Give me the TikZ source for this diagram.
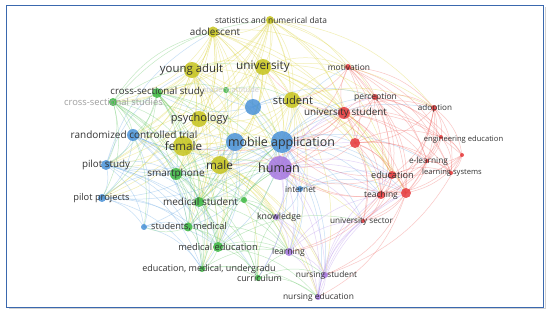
\documentclass[tikz,border=0pt]{standalone}
\usepackage{fontspec}
\setmainfont{Open Sans}
\pgfdeclarelayer{bg}
\pgfsetlayers{bg,main}
\definecolor{cy}{HTML}{C6C41E}
\definecolor{cb}{HTML}{4A92D8}
\definecolor{cg}{HTML}{3DB843}
\definecolor{cr}{HTML}{E63A3C}
\definecolor{cp}{HTML}{A576E0}
\definecolor{ey}{HTML}{DCD43A}
\definecolor{eb}{HTML}{6AAAE6}
\definecolor{eg}{HTML}{66C866}
\definecolor{er}{HTML}{F26A66}
\definecolor{ep}{HTML}{B890EC}
\definecolor{labc}{HTML}{333333}
\definecolor{framec}{HTML}{3A68AE}
\newcommand{\fsz}[1]{\fontsize{#1}{#1}\selectfont}
\tikzset{
  vn/.style 2 args={circle, inner sep=0pt, minimum size=#2, fill=#1, fill opacity=0.85, draw=none},
  lab/.style={inner sep=0pt, text=labc, font=\fsz{#1}},
  lnk/.style={draw=#1, draw opacity=0.38, line width=0.5pt, bend left=22},
}
\begin{document}
\begin{tikzpicture}[x=1pt,y=-1pt]
\useasboundingbox (0,0) rectangle (550,313);
% ---------- node circles ----------
% yellow
\node[vn={cy}{8pt}] (stat) at (270,20) {};
\node[vn={cy}{11pt}] (adol) at (213,32) {};
\node[vn={cy}{16pt}] (yadult) at (192,70) {};
\node[vn={cy}{16pt}] (univ) at (263,67) {};
\node[vn={cy}{16pt}] (stud) at (292,100) {};
\node[vn={cy}{16pt}] (psych) at (199,119) {};
\node[vn={cy}{20pt}] (fem) at (183,146) {};
\node[vn={cy}{18pt}] (male) at (220,165) {};
% blue
\node[vn={cb}{22pt}] (mob) at (282,142) {};
\node[vn={cb}{18pt}] (mob2) at (235,142) {};
\node[vn={cb}{16pt}] (mob3) at (253,107) {};
\node[vn={cb}{12pt}] (rct) at (133,135) {};
\node[vn={cb}{10pt}] (pstudy) at (106,165) {};
\node[vn={cb}{8pt}] (pproj) at (102,198) {};
\node[vn={cb}{6pt}] (blsm) at (144,227) {};
\node[vn={cb}{6pt}] (inet) at (300,189) {};
% green
\node[vn={cg}{10pt}] (css) at (157,93) {};
\node[vn={cg}{8pt}] (csss) at (113,102) {};
\node[vn={cg}{6pt}] (satt) at (226,90) {};
\node[vn={cg}{12pt}] (smart) at (176,174) {};
\node[vn={cg}{10pt}] (medst) at (199,202) {};
\node[vn={cg}{6pt}] (gsm) at (244,200) {};
\node[vn={cg}{9pt}] (stmed) at (188,227) {};
\node[vn={cg}{10pt}] (medu) at (218,247) {};
\node[vn={cg}{6pt}] (emu) at (202,269) {};
\node[vn={cg}{6pt}] (curr) at (258,278) {};
% purple
\node[vn={cp}{24pt}] (human) at (280,168) {};
\node[vn={cp}{6pt}] (know) at (276,217) {};
\node[vn={cp}{8pt}] (learn) at (289,252) {};
\node[vn={cp}{6pt}] (nst) at (325,275) {};
\node[vn={cp}{6pt}] (ned) at (318,297) {};
% red
\node[vn={cr}{6pt}] (motiv) at (348,67) {};
\node[vn={cr}{6pt}] (perc) at (375,97) {};
\node[vn={cr}{12pt}] (ust) at (344,113) {};
\node[vn={cr}{6pt}] (adopt) at (434,108) {};
\node[vn={cr}{10pt}] (r1) at (355,143) {};
\node[vn={cr}{4pt}] (eng) at (441,137) {};
\node[vn={cr}{4pt}] (r2) at (462,155) {};
\node[vn={cr}{4pt}] (elearn) at (427,161) {};
\node[vn={cr}{4pt}] (lsys) at (451,173) {};
\node[vn={cr}{8pt}] (educ) at (392,175) {};
\node[vn={cr}{8pt}] (teach) at (381,195) {};
\node[vn={cr}{10pt}] (r3) at (406,193) {};
\node[vn={cr}{4pt}] (usec) at (363,221) {};
% ---------- edges ----------
\begin{pgfonlayer}{bg}
\fill[white] (0,0) rectangle (550,313);
\foreach \s/\tl in {
  stat/{adol,univ,stud,yadult,fem,male,human,mob,psych,css,csss,rct,pstudy,pproj,motiv,perc,adopt,ust,educ,r1,smart},
  adol/{yadult,univ,stud,fem,male,psych,human,mob,mob2,mob3,css,csss,rct,pstudy,pproj,smart,medst,ust,motiv,educ},
  yadult/{univ,stud,fem,male,psych,human,mob,mob2,css,csss,rct,pstudy,pproj,smart,medst,stmed,medu},
  univ/{stud,fem,male,psych,human,mob,mob2,ust,motiv,perc,adopt,educ,teach,r1,r3,medst,css},
  stud/{fem,male,psych,human,mob,mob2,ust,perc,motiv,adopt,educ,teach,r1,r3,know,learn,nst,inet},
  psych/{fem,male,human,mob,mob2,rct,smart,pstudy,medst,css},
  fem/{male,human,mob,rct,pstudy,pproj,smart,medst,stmed,medu,know,learn,nst,ned,emu},
  male/{human,mob,smart,medst,stmed,medu,curr,know,learn,inet,nst,ned,emu,usec}}
  {\foreach \t in \tl {\draw[lnk=ey] (\s.center) to (\t.center);}}
\foreach \s/\tl in {
  mob/{human,mob2,mob3,rct,pstudy,pproj,smart,medst,inet,ust,educ,teach,know,learn,medu,stmed,perc,adopt,elearn,nst,ned,r1,r3,usec,motiv,curr},
  mob2/{rct,pstudy,pproj,fem,blsm,smart,medst,stmed,medu,human,male,emu},
  mob3/{univ,stud,yadult,ust,css,psych,human,perc},
  rct/{pstudy,pproj,smart,blsm,stmed,medu,human,medst,emu},
  pstudy/{pproj,blsm,smart,medst,stmed,medu,emu,curr,yadult,adol},
  pproj/{blsm,stmed,medu,emu,smart},
  blsm/{stmed,medu,emu},
  inet/{human,educ,teach,know,learn,r3}}
  {\foreach \t in \tl {\draw[lnk=eb] (\s.center) to (\t.center);}}
\foreach \s/\tl in {
  css/{csss,satt,rct,pstudy,pproj,smart,medst,human,mob2,fem,psych,stmed,medu,emu},
  csss/{rct,pstudy,pproj,smart,medst,stmed,medu,emu,fem,mob2,blsm,adol,stat,univ},
  satt/{mob,stud,human,medst},
  smart/{medst,stmed,medu,emu,human,mob,gsm,curr,know,learn},
  medst/{stmed,medu,emu,curr,human,gsm,know,learn,mob},
  stmed/{medu,emu,curr,human,blsm,learn},
  medu/{emu,curr,human,know,learn,nst,ned,usec,mob},
  emu/{curr,human,learn,ned},
  curr/{human,learn,know,ned,nst},
  gsm/{human,mob,know,learn}}
  {\foreach \t in \tl {\draw[lnk=eg] (\s.center) to (\t.center);}}
\foreach \s/\tl in {
  human/{know,learn,nst,ned,inet,ust,educ,teach,r1,r3,usec,perc,curr},
  know/{learn,nst,ned},
  learn/{nst,ned,usec,teach},
  nst/{ned,usec,r3},
  ned/{usec,r3,teach,educ}}
  {\foreach \t in \tl {\draw[lnk=ep] (\s.center) to (\t.center);}}
\foreach \s/\tl in {
  ust/{motiv,perc,adopt,r1,eng,r2,elearn,lsys,educ,teach,r3,usec,human,mob,stud,univ,male,fem},
  motiv/{perc,adopt,r1,educ,teach,r3,eng,elearn,lsys,stud,mob},
  perc/{adopt,r1,educ,teach,r3,eng,elearn,lsys,r2,mob,human},
  adopt/{eng,r2,elearn,lsys,educ,r1,r3,teach,usec},
  r1/{educ,teach,r3,elearn,lsys,eng,usec,human,mob},
  eng/{r2,elearn,lsys,educ,teach},
  r2/{elearn,lsys,educ,r3,teach,nst},
  elearn/{lsys,educ,r3,teach,usec},
  educ/{teach,r3,usec,lsys,learn,human,mob},
  teach/{r3,usec,human,learn},
  r3/{usec,ned,nst,human,mob}}
  {\foreach \t in \tl {\draw[lnk=er] (\s.center) to (\t.center);}}
\end{pgfonlayer}
% ---------- labels ----------
\node[lab=8.4] (Lstat) at (271,20) {statistics and numerical data};
\node[lab=9.9] (Ladol) at (215,32) {adolescent};
\node[lab=11.4] (Lyadult) at (191.5,70) {young adult};
\node[lab=11.8] (Luniv) at (263,67) {university};
\node[lab=11.2] (Lstud) at (293,100) {student};
\node[lab=11] (Lpsych) at (199.5,119) {psychology};
\node[lab=11.6] (Lfem) at (183.5,146) {female};
\node[lab=11.7] (Lmale) at (219.5,165) {male};
\node[lab=12.4] (Lmob) at (281.5,143) {mobile application};
\node[lab=10] (Lrct) at (134,135) {randomized controlled trial};
\node[lab=9.8] (Lpstudy) at (106,165) {pilot study};
\node[lab=9.3] (Lpproj) at (101.5,198) {pilot projects};
\node[lab=8.3] (Linet) at (300.5,189) {internet};
\node[lab=9.7] (Lcss) at (157.5,92) {cross-sectional study};
\node[lab=9.4, text=black!38] (Lcsss) at (113.5,102) {cross-sectional studies};
\node[lab=7.5, text=black!20] (Lsatt) at (231,90) {student attitude};
\node[lab=10] (Lsmart) at (176,174) {smartphone};
\node[lab=10] (Lmedst) at (200.5,202) {medical student};
\node[lab=9.2] (Lstmed) at (189,227) {students, medical};
\node[lab=9.3] (Lmedu) at (218,247) {medical education};
\node[lab=9] (Lemu) at (209,269) {education, medical, undergradu};
\node[lab=8.9] (Lcurr) at (259.5,278) {curriculum};
\node[lab=12.6] (Lhuman) at (279,168) {human};
\node[lab=8.7] (Lknow) at (279,217) {knowledge};
\node[lab=8.6] (Llearn) at (288.5,252) {learning};
\node[lab=8.3] (Lnst) at (326.5,275) {nursing student};
\node[lab=8.4] (Lned) at (318.5,297) {nursing education};
\node[lab=8.4] (Lmotiv) at (349,67) {motivation};
\node[lab=8.5] (Lperc) at (375.5,97) {perception};
\node[lab=9.9] (Lust) at (345.5,113) {university student};
\node[lab=8.1] (Ladopt) at (435,108) {adoption};
\node[lab=7.6] (Leng) at (463.5,140) {engineering education};
\node[lab=8.3] (Lelearn) at (428.5,161) {e-learning};
\node[lab=7.6] (Llsys) at (452,173) {learning systems};
\node[lab=9.2] (Leduc) at (392.5,175) {education};
\node[lab=8.5] (Lteach) at (381,195) {teaching};
\node[lab=8.2] (Lusec) at (361.5,221) {university sector};
% ---------- frame ----------
\draw[black!18, line width=1pt] (8.5,308.8) -- (545.2,308.8) -- (545.2,7);
\draw[framec, line width=1.3pt] (6.5,5.5) rectangle (543.8,307.3);
\end{tikzpicture}
\end{document}
